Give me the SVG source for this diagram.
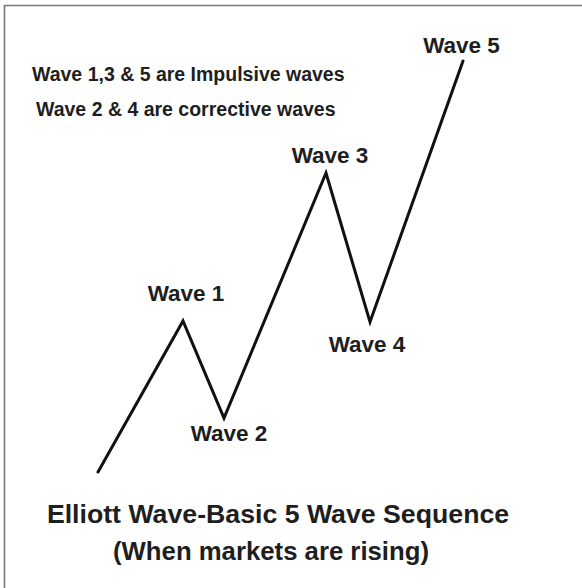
<svg xmlns="http://www.w3.org/2000/svg" width="582" height="588" viewBox="0 0 582 588">
<style>
.t{font-family:"Liberation Sans",Arial,sans-serif;font-weight:bold;fill:#1e1e1e}
.lbl{font-size:22.5px;text-anchor:middle}
.note{font-size:19.5px}
.title{font-size:26.7px;text-anchor:middle}
.wave{fill:none;stroke:#111;stroke-width:3;stroke-linejoin:miter;stroke-linecap:round}
.frame{stroke:#7a7a7a;stroke-width:1.6;fill:none}
</style>
<rect width="582" height="588" fill="#fff"/>
<path class="frame" d="M4.5,588 V5.5 H582"/>
<g id="connectors">
<polyline class="wave" points="98,472 183,321 224,418 326,173 370,322 463,61"/>
</g>
<g id="wave1"><text class="t lbl" x="186" y="301">Wave 1</text></g>
<g id="wave2"><text class="t lbl" x="229" y="441">Wave 2</text></g>
<g id="wave3"><text class="t lbl" x="330" y="162.5">Wave 3</text></g>
<g id="wave4"><text class="t lbl" x="367" y="352">Wave 4</text></g>
<g id="wave5"><text class="t lbl" x="461.5" y="53">Wave 5</text></g>
<g id="notes">
<text class="t note" x="32" y="80.5">Wave 1,3 &amp; 5 are Impulsive waves</text>
<text class="t note" x="36" y="116">Wave 2 &amp; 4 are corrective waves</text>
</g>
<g id="title">
<text class="t title" x="278" y="523">Elliott Wave-Basic 5 Wave Sequence</text>
<text class="t title" x="271" y="560" textLength="316" lengthAdjust="spacingAndGlyphs">(When markets are rising)</text>
</g>
</svg>
